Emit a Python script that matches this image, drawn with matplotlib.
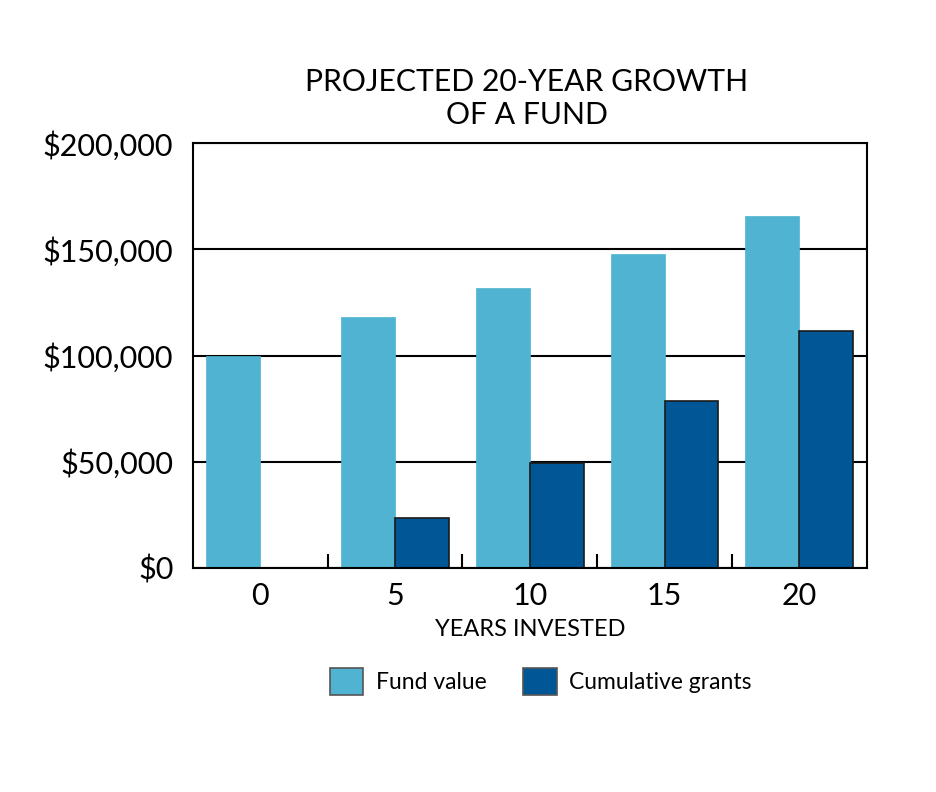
import matplotlib
matplotlib.use("Agg")
import matplotlib.pyplot as plt
import numpy as np
from matplotlib.patches import Patch

years = ["0", "5", "10", "15", "20"]
fund_value = [100000, 118000, 132000, 148000, 165700]
cumulative_grants = [0, 23300, 49500, 78500, 111800]
y_ticks = [0, 50000, 100000, 150000, 200000]
y_labels = ["$0", "$50,000", "$100,000", "$150,000", "$200,000"]

plt.rcParams['font.family'] = ['Lato', 'DejaVu Sans']

fund_color = "#4FB3D1"
grant_color = "#015695"

fig = plt.figure(figsize=(9.36, 7.92), dpi=100)
ax = fig.add_axes([0.206, 0.283, 0.72, 0.536])

x = np.arange(len(years))
w = 0.4
ax.bar(x - 0.2, fund_value, width=w, color=fund_color, edgecolor=fund_color, linewidth=0.5, zorder=3)
ax.bar(x + 0.2, cumulative_grants, width=w, color=grant_color, edgecolor="#1a1a1a", linewidth=1.2, zorder=3)

ax.set_xlim(-0.5, len(years) - 0.5)
ax.set_ylim(0, 200000)
ax.set_yticks(y_ticks)
ax.set_yticklabels(y_labels, fontsize=22)
ax.set_xticks(x)
ax.set_xticklabels(years, fontsize=22)
ax.tick_params(axis='x', length=0, pad=10)
ax.tick_params(axis='y', length=0, pad=14)
ax.set_xticks(np.arange(len(years) - 1) + 0.5, minor=True)
ax.tick_params(axis='x', which='minor', direction='in', length=10, width=1.5, color='black')

ax.yaxis.grid(True, color='black', linewidth=1.5, zorder=1)
ax.set_axisbelow(True)
for s in ax.spines.values():
    s.set_linewidth(1.5)
    s.set_color('black')
    s.set_zorder(4)

ax.set_xlabel("YEARS INVESTED", fontsize=17, labelpad=7)

fig.text(0.563, 0.876, "PROJECTED 20-YEAR GROWTH\nOF A FUND", ha='center', va='center',
         fontsize=21.7, linespacing=1.22)

handles = [Patch(facecolor=fund_color, edgecolor='#555555', linewidth=1.2, label="Fund value"),
           Patch(facecolor=grant_color, edgecolor='#555555', linewidth=1.2, label="Cumulative grants")]
fig.legend(handles=handles, loc='center', bbox_to_anchor=(0.578, 0.14), ncol=2, frameon=False,
           fontsize=16.5, handlelength=1.45, handleheight=1.45, columnspacing=1.6, handletextpad=0.55)

fig.savefig("out.png", dpi=100, facecolor='white')
